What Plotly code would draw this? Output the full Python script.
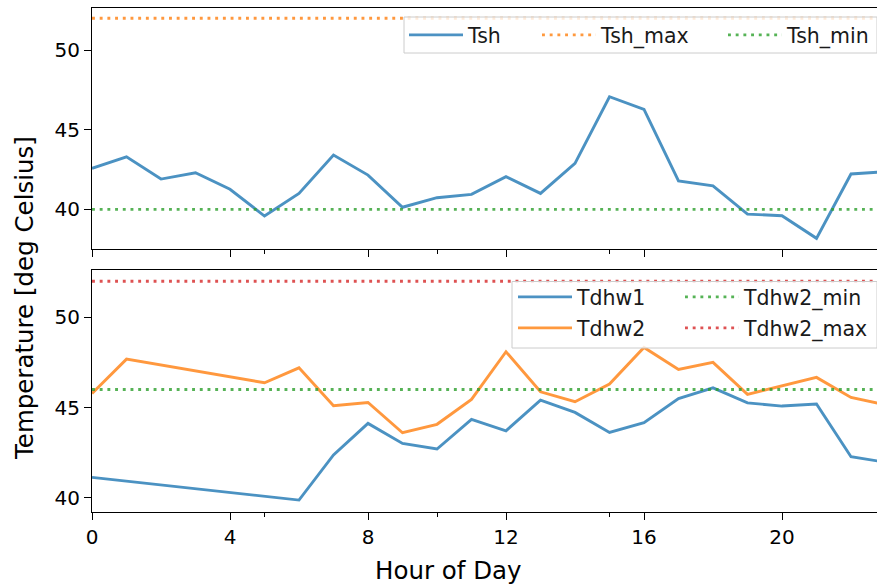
import plotly.graph_objects as go
from plotly.subplots import make_subplots

# ---------------- data ----------------
hours = list(range(24))
tsh = [42.57, 43.30, 41.90, 42.30, 41.26, 39.58, 41.00, 43.41, 42.15, 40.13,
       40.73, 40.94, 42.05, 41.00, 42.89, 47.07, 46.28, 41.78, 41.48, 39.70,
       39.60, 38.18, 42.22, 42.36]
tsh_max = 52.0
tsh_min = 40.0

hours_dhw1 = [0, 6, 7, 8, 9, 10, 11, 12, 13, 14, 15, 16, 17, 18, 19, 20, 21, 22, 23]
tdhw1 = [41.13, 39.87, 42.37, 44.12, 43.01, 42.70, 44.34, 43.71, 45.41, 44.73,
         43.62, 44.16, 45.50, 46.09, 45.26, 45.08, 45.19, 42.27, 41.97]

hours_dhw2 = [0, 1, 5, 6, 7, 8, 9, 10, 11, 12, 13, 14, 15, 16, 17, 18, 19, 20, 21, 22, 23]
tdhw2 = [45.78, 47.68, 46.37, 47.20, 45.10, 45.28, 43.60, 44.07, 45.45, 48.09,
         45.87, 45.32, 46.30, 48.33, 47.11, 47.50, 45.73, 46.20, 46.67, 45.56, 45.15]
tdhw2_min = 46.0
tdhw2_max = 52.0

x_ticks = [0, 4, 8, 12, 16, 20]
x_minor_ticks = [5, 10, 15]
y_ticks = [40, 45, 50]

# ---------------- style ----------------
BLUE = "#1f77b4"
ORANGE = "#ff7f0e"
GREEN = "#2ca02c"
RED = "#d62728"
LW = 2.9
DOT = "2.9px,4.8px"
FONT = "DejaVu Sans"
ALPHA = 0.8
TICK_FS = 20
LEG_FS = 20.5
LAB_FS = 24.5

W, H = 877, 586
L, R, T, B = 92, 0, 8, 74
PW = W - L - R
PH = H - T - B


def px_x(px):
    return (px - L) / PW


def px_y(py):
    return (H - B - py) / PH


fig = make_subplots(rows=2, cols=1, shared_xaxes=True, vertical_spacing=0)

fig.add_trace(go.Scatter(x=hours, y=tsh, mode="lines", name="Tsh",
                         line=dict(color=BLUE, width=LW), opacity=ALPHA,
                         legend="legend", showlegend=True), row=1, col=1)
fig.add_trace(go.Scatter(x=[hours[0], hours[-1]], y=[tsh_max, tsh_max], mode="lines",
                         name="Tsh_max", line=dict(color=ORANGE, width=LW, dash=DOT),
                         opacity=ALPHA, legend="legend2"), row=1, col=1)
fig.add_trace(go.Scatter(x=[hours[0], hours[-1]], y=[tsh_min, tsh_min], mode="lines",
                         name="Tsh_min", line=dict(color=GREEN, width=LW, dash=DOT),
                         opacity=ALPHA, legend="legend3"), row=1, col=1)

fig.add_trace(go.Scatter(x=hours_dhw1, y=tdhw1, mode="lines", name="Tdhw1",
                         line=dict(color=BLUE, width=LW), opacity=ALPHA,
                         legend="legend4"), row=2, col=1)
fig.add_trace(go.Scatter(x=hours_dhw2, y=tdhw2, mode="lines", name="Tdhw2",
                         line=dict(color=ORANGE, width=LW), opacity=ALPHA,
                         legend="legend5"), row=2, col=1)
fig.add_trace(go.Scatter(x=[hours[0], hours[-1]], y=[tdhw2_min, tdhw2_min], mode="lines",
                         name="Tdhw2_min", line=dict(color=GREEN, width=LW, dash=DOT),
                         opacity=ALPHA, legend="legend6"), row=2, col=1)
fig.add_trace(go.Scatter(x=[hours[0], hours[-1]], y=[tdhw2_max, tdhw2_max], mode="lines",
                         name="Tdhw2_max", line=dict(color=RED, width=LW, dash=DOT),
                         opacity=ALPHA, legend="legend7"), row=2, col=1)

axis_common = dict(showline=True, linecolor="black", linewidth=1, mirror=True,
                   ticks="outside", ticklen=7, tickwidth=1, tickcolor="black",
                   showgrid=False, zeroline=False,
                   tickfont=dict(family=FONT, size=TICK_FS, color="black"))

xr = [0, (W - L - R) / 34.5]
fig.update_xaxes(range=xr, tickvals=x_ticks,
                 minor=dict(tickvals=x_minor_ticks, ticks="outside", ticklen=4,
                            tickwidth=1, tickcolor="black", showgrid=False),
                 **axis_common)
fig.update_xaxes(showticklabels=False, row=1, col=1)
fig.update_yaxes(tickvals=y_ticks, **axis_common)

fig.update_layout(
    xaxis=dict(domain=[0, 1]),
    yaxis=dict(domain=[px_y(249), px_y(8)], range=[37.51, 52.64]),
    yaxis2=dict(domain=[px_y(512), px_y(270)], range=[39.21, 52.62]),
)

leg_common = dict(bgcolor="rgba(0,0,0,0)", borderwidth=0, itemwidth=54,
                  font=dict(family=FONT, size=LEG_FS, color="#1a1a1a"),
                  xanchor="left", yanchor="middle", orientation="v")
legend_pos = {
    "legend": (404, 35), "legend2": (537, 35), "legend3": (723, 35),
    "legend4": (513, 297), "legend5": (513, 328),
    "legend6": (680, 297), "legend7": (680, 328),
}
for key, (lx, ly) in legend_pos.items():
    fig.update_layout({key: dict(x=px_x(lx), y=px_y(ly), **leg_common)})

# legend frames
frames = [(404, 17, 877, 53), (512, 281.5, 877, 348)]
for (x0, y0, x1, y1) in frames:
    fig.add_shape(type="rect", xref="paper", yref="paper",
                  x0=px_x(x0), x1=px_x(x1), y0=px_y(y1), y1=px_y(y0),
                  fillcolor="rgba(255,255,255,0.8)",
                  line=dict(color="#cccccc", width=1), layer="above")

fig.add_annotation(text="Hour of Day", xref="paper", yref="paper",
                   x=px_x(448), y=px_y(570), xanchor="center", yanchor="middle",
                   showarrow=False, font=dict(family=FONT, size=LAB_FS, color="black"))
fig.add_annotation(text="Temperature [deg Celsius]", xref="paper", yref="paper",
                   x=px_x(24), y=px_y(298), xanchor="center", yanchor="middle",
                   textangle=-90, showarrow=False,
                   font=dict(family=FONT, size=LAB_FS, color="black"))

fig.update_layout(width=W, height=H, margin=dict(l=L, r=R, t=T, b=B),
                  plot_bgcolor="white", paper_bgcolor="white",
                  font=dict(family=FONT), showlegend=True)

fig.write_html("out.html")
